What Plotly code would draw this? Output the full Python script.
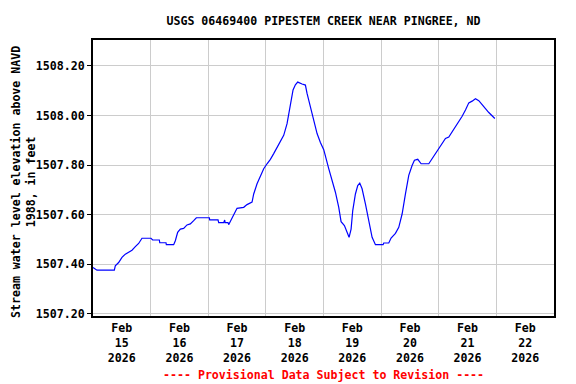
import pandas as pd
import plotly.graph_objects as go

title_text = "USGS 06469400 PIPESTEM CREEK NEAR PINGREE, ND"
y_title = "Stream water level elevation above NAVD<br>1988, in feet"
footer_text = "---- Provisional Data Subject to Revision ----"

start_time = "2026-02-15 00:00"
hours = [0.0, 1.65, 8.88, 9.29, 10.68, 12.07, 13.46, 14.85, 16.24, 17.63, 19.01, 20.40,
         24.15, 24.85, 27.63, 27.80, 30.40, 30.54, 33.60, 34.29, 35.26, 36.38, 37.76,
         39.15, 40.54, 41.93, 43.04, 48.46, 48.60, 52.07, 52.35, 54.43, 54.85, 55.0,
         56.24, 56.50, 57.21, 58.60, 59.99, 62.76, 64.15, 66.24, 66.93, 68.32, 69.71,
         71.10, 72.49, 73.88, 75.26, 76.65, 78.04, 79.43, 80.82, 82.21, 83.32, 84.29,
         85.26, 87.07, 88.46, 89.15, 90.54, 91.93, 93.32, 94.71, 96.10, 98.18, 99.57,
         100.96, 102.35, 103.32, 104.71, 105.82, 106.65, 107.49, 108.18, 109.29, 110.26,
         111.10, 112.07, 113.46, 114.85, 116.24, 117.63, 120.82, 121.10, 123.18, 124.15,
         125.96, 127.35, 128.74, 130.13, 131.51, 132.90, 133.88, 135.26, 136.66, 139.85,
         141.24, 142.63, 144.01, 145.40, 146.79, 148.18, 149.57, 150.96, 152.35, 153.74,
         155.13, 156.51, 157.90, 159.29, 160.68, 162.07, 163.46, 164.85, 166.24, 167.35]
levels = [1507.386, 1507.375, 1507.375, 1507.393, 1507.406, 1507.427, 1507.440, 1507.447,
          1507.456, 1507.470, 1507.483, 1507.504, 1507.504, 1507.497, 1507.497, 1507.486,
          1507.486, 1507.478, 1507.478, 1507.494, 1507.528, 1507.541, 1507.544, 1507.558,
          1507.562, 1507.575, 1507.587, 1507.587, 1507.578, 1507.578, 1507.567, 1507.567,
          1507.578, 1507.567, 1507.567, 1507.559, 1507.573, 1507.596, 1507.625, 1507.629,
          1507.640, 1507.650, 1507.683, 1507.724, 1507.758, 1507.785, 1507.805, 1507.823,
          1507.846, 1507.870, 1507.900, 1507.920, 1507.967, 1508.049, 1508.103, 1508.124,
          1508.135, 1508.127, 1508.123, 1508.089, 1508.035, 1507.988, 1507.927, 1507.891,
          1507.862, 1507.785, 1507.738, 1507.690, 1507.629, 1507.571, 1507.555, 1507.528,
          1507.508, 1507.541, 1507.616, 1507.683, 1507.717, 1507.727, 1507.704, 1507.643,
          1507.569, 1507.508, 1507.478, 1507.478, 1507.485, 1507.485, 1507.505, 1507.524,
          1507.548, 1507.602, 1507.683, 1507.758, 1507.798, 1507.819, 1507.823, 1507.805,
          1507.805, 1507.825, 1507.846, 1507.870, 1507.889, 1507.907, 1507.913, 1507.934,
          1507.954, 1507.974, 1507.997, 1508.022, 1508.051, 1508.058, 1508.068, 1508.060,
          1508.046, 1508.028, 1508.012, 1507.997, 1507.988]

y_ticks = [1507.2, 1507.4, 1507.6, 1507.8, 1508.0, 1508.2]
x_range = ["2026-02-15 00:00", "2026-02-23 00:00"]
y_range = [1507.19, 1508.305]

times = pd.Timestamp(start_time) + pd.to_timedelta(hours, unit="h")

mono = "DejaVu Sans Mono"
W, H = 568, 376  # page body has an 8px margin

fig = go.Figure()
fig.add_trace(go.Scatter(x=times, y=levels, mode="lines",
                         line=dict(color="#0000ff", width=1.2), showlegend=False))

fig.update_layout(
    width=W, height=H,
    margin=dict(l=85, r=22, t=32, b=68),
    paper_bgcolor="white", plot_bgcolor="white",
    font=dict(family=mono, size=11.6, color="black"),
    title=dict(text="<b>" + title_text + "</b>", x=(85 + (W - 22)) / 2 / W, xanchor="center",
               y=1 - 12.5 / H, yanchor="middle", font=dict(family=mono, size=11.6)),
    xaxis=dict(type="date", range=x_range, dtick=86400000, tick0="2026-02-15",
               ticklabelmode="period", tickformat="<b>%b</b><br><b>%d</b><br><b>%Y</b>",
               showgrid=True, gridcolor="#cccccc", gridwidth=1,
               showline=True, linecolor="black", linewidth=2, mirror=True,
               ticks="", zeroline=False, tickfont=dict(family=mono, size=11.6)),
    yaxis=dict(range=y_range, tickvals=y_ticks,
               ticktext=["<b>%.2f</b>" % v for v in y_ticks],
               showgrid=True, gridcolor="#cccccc", gridwidth=1,
               showline=True, linecolor="black", linewidth=2, mirror=True,
               ticks="outside", ticklen=4, tickcolor="black", zeroline=False,
               tickfont=dict(family=mono, size=11.6)),
    annotations=[
        dict(text="<b>" + y_title + "</b>", xref="paper", yref="paper", x=0, y=0.5,
             xanchor="center", yanchor="middle", xshift=-70, yshift=-4, textangle=-90,
             showarrow=False, font=dict(family=mono, size=11.6)),
        dict(text="<b>" + footer_text + "</b>", xref="paper", yref="paper", x=0.5, y=0,
             xanchor="center", yanchor="middle", yshift=-(375 - 316), showarrow=False,
             font=dict(family=mono, size=11.6, color="red")),
    ],
)

fig.write_html("out.html")
